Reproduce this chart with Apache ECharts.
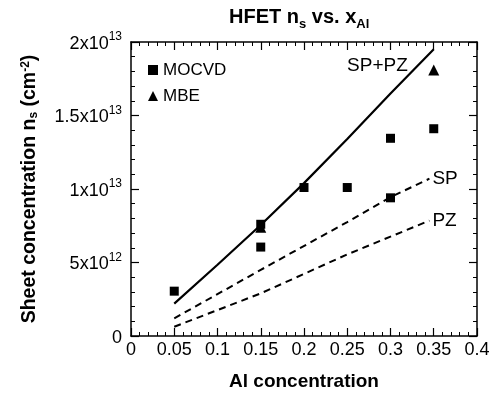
<!DOCTYPE html>
<html>
<head>
<meta charset="utf-8">
<script src="https://cdn.jsdelivr.net/npm/echarts@6/dist/echarts.min.js"></script>
<style>
html,body{margin:0;padding:0;background:#fff;}
#chart{width:496px;height:397px;}
</style>
</head>
<body>
<div id="chart"></div>
<script>
// ---- data ----
const mocvdX = [0.05, 0.15, 0.15, 0.2, 0.25, 0.3, 0.3, 0.35];
const mocvdY = [3.05e12, 6.05e12, 7.6e12, 1.01e13, 1.01e13, 1.345e13, 9.4e12, 1.41e13];
const mbeX = [0.15, 0.35];
const mbeY = [7.4e12, 1.81e13];
const spPzX = [0.05, 0.1, 0.15, 0.2, 0.25, 0.3, 0.35];
const spPzY = [2.2e12, 4.85e12, 7.55e12, 1.04e13, 1.34e13, 1.65e13, 1.95e13];
const spX = [0.05, 0.15, 0.25, 0.3, 0.345];
const spY = [1.2e12, 4.5e12, 7.75e12, 9.45e12, 1.07e13];
const pzX = [0.05, 0.15, 0.25, 0.345];
const pzY = [6.3e11, 2.9e12, 5.55e12, 7.85e12];
const xTickValues = [0, 0.05, 0.1, 0.15, 0.2, 0.25, 0.3, 0.35, 0.4];
const xTickLabels = ['0', '0.05', '0.1', '0.15', '0.2', '0.25', '0.3', '0.35', '0.4'];
const yTickValues = [0, 5e12, 1e13, 1.5e13, 2e13];
const yTickMantissa = ['0', '5x10', '1x10', '1.5x10', '2x10'];
const yTickExponent = ['', '12', '13', '13', '13'];
const lineNames = ['SP+PZ', 'SP', 'PZ'];

const zip = (xs, ys) => xs.map((x, i) => [x, ys[i]]);
const FONT = '"Liberation Sans", Arial, Helvetica, sans-serif';

function lineData(xs, ys, name, labelCfg) {
  const d = zip(xs, ys).map(p => ({ value: p }));
  d[d.length - 1].label = Object.assign({
    show: true, formatter: name, color: '#000', fontSize: 19, fontFamily: FONT
  }, labelCfg);
  return d;
}

const chart = echarts.init(document.getElementById('chart'), null, { renderer: 'canvas' });

function axisCommon() {
  return {
    axisLine: { show: true, onZero: false, lineStyle: { color: '#000', width: 1.5 } },
    axisTick: { show: true, inside: true, length: 8, lineStyle: { color: '#000', width: 1.2 } },
    minorTick: { show: true, splitNumber: 5, length: 4, lineStyle: { color: '#000', width: 1 } },
    splitLine: { show: false },
    minorSplitLine: { show: false }
  };
}

const option = {
  animation: false,
  backgroundColor: '#fff',
  textStyle: { fontFamily: FONT },
  title: {
    text: '{b|HFET n}{s|s}{b| vs. x}{s|Al}',
    left: 224,
    top: 2,
    textStyle: {
      rich: {
        b: { fontSize: 20, fontWeight: 'bold', color: '#000', fontFamily: FONT, lineHeight: 24, verticalAlign: 'top' },
        s: { fontSize: 13, fontWeight: 'bold', color: '#000', fontFamily: FONT, lineHeight: 13, verticalAlign: 'bottom' }
      }
    }
  },
  legend: {
    orient: 'vertical',
    left: 143,
    top: 56,
    itemWidth: 10,
    itemHeight: 10,
    itemGap: 8,
    itemStyle: { borderWidth: 0, opacity: 1 },
    textStyle: { fontSize: 17, color: '#000', fontFamily: FONT, lineHeight: 18 },
    data: [{ name: 'MOCVD', icon: 'rect' }, { name: 'MBE', icon: 'triangle' }]
  },
  grid: { left: 131, right: 19, top: 42, bottom: 61, containLabel: false },
  xAxis: [
    Object.assign(axisCommon(), {
      type: 'value', min: 0, max: 0.4, interval: 0.05, position: 'bottom',
      name: 'Al concentration', nameLocation: 'middle', nameGap: 36,
      nameTextStyle: { fontSize: 19, fontWeight: 'bold', color: '#000', fontFamily: FONT },
      axisLabel: {
        show: true, margin: 5, fontSize: 18, color: '#000', fontFamily: FONT,
        formatter: v => {
          const i = xTickValues.findIndex(t => Math.abs(t - v) < 1e-9);
          return i >= 0 ? xTickLabels[i] : '';
        }
      }
    }),
    Object.assign(axisCommon(), {
      type: 'value', min: 0, max: 0.4, interval: 0.05, position: 'top',
      axisLabel: { show: false }
    })
  ],
  yAxis: [
    Object.assign(axisCommon(), {
      type: 'value', min: 0, max: 2e13, interval: 5e12, position: 'left',
      name: 'Sheet concentration n{sub|s} (cm{sup|-2})',
      nameLocation: 'middle', nameGap: 91,
      nameTextStyle: {
        fontSize: 19.5, fontWeight: 'bold', color: '#000', fontFamily: FONT,
        rich: {
          sub: { fontSize: 12, fontWeight: 'bold', color: '#000', fontFamily: FONT, verticalAlign: 'bottom', lineHeight: 12 },
          sup: { fontSize: 12, fontWeight: 'bold', color: '#000', fontFamily: FONT, verticalAlign: 'top', lineHeight: 12 }
        }
      },
      axisLabel: {
        show: true, margin: 9, color: '#000', fontFamily: FONT, fontSize: 18,
        formatter: v => {
          const i = yTickValues.findIndex(t => Math.abs(t - v) < 1);
          if (i < 0) return '';
          return yTickExponent[i] ? '{m|' + yTickMantissa[i] + '}{e|' + yTickExponent[i] + '}' : '{m|' + yTickMantissa[i] + '}';
        },
        rich: {
          m: { fontSize: 18, color: '#000', fontFamily: FONT, lineHeight: 22, verticalAlign: 'bottom' },
          e: { fontSize: 12, color: '#000', fontFamily: FONT, lineHeight: 12, verticalAlign: 'top' }
        }
      }
    }),
    Object.assign(axisCommon(), {
      type: 'value', min: 0, max: 2e13, interval: 5e12, position: 'right',
      axisLabel: { show: false }
    })
  ],
  series: [
    {
      name: lineNames[0], type: 'line', xAxisIndex: 0, yAxisIndex: 0,
      showSymbol: true, symbol: 'circle', symbolSize: 0, silent: true,
      lineStyle: { color: '#000', width: 2.2, type: 'solid' },
      itemStyle: { color: '#000' },
      data: lineData(spPzX, spPzY, lineNames[0], { position: 'left', distance: 26, offset: [0, 16] })
    },
    {
      name: lineNames[1], type: 'line', xAxisIndex: 0, yAxisIndex: 0,
      showSymbol: true, symbol: 'circle', symbolSize: 0, silent: true,
      lineStyle: { color: '#000', width: 2, type: [7, 5] },
      itemStyle: { color: '#000' },
      data: lineData(spX, spY, lineNames[1], { position: 'right', distance: 3 })
    },
    {
      name: lineNames[2], type: 'line', xAxisIndex: 0, yAxisIndex: 0,
      showSymbol: true, symbol: 'circle', symbolSize: 0, silent: true,
      lineStyle: { color: '#000', width: 2, type: [7, 5] },
      itemStyle: { color: '#000' },
      data: lineData(pzX, pzY, lineNames[2], { position: 'right', distance: 3 })
    },
    {
      name: 'MOCVD', type: 'scatter', xAxisIndex: 0, yAxisIndex: 0,
      symbol: 'rect', symbolSize: 9, itemStyle: { color: '#000', opacity: 1 },
      data: zip(mocvdX, mocvdY)
    },
    {
      name: 'MBE', type: 'scatter', xAxisIndex: 0, yAxisIndex: 0,
      symbol: 'triangle', symbolSize: 11, itemStyle: { color: '#000', opacity: 1 },
      data: zip(mbeX, mbeY)
    }
  ]
};
chart.setOption(option);
</script>
</body>
</html>
